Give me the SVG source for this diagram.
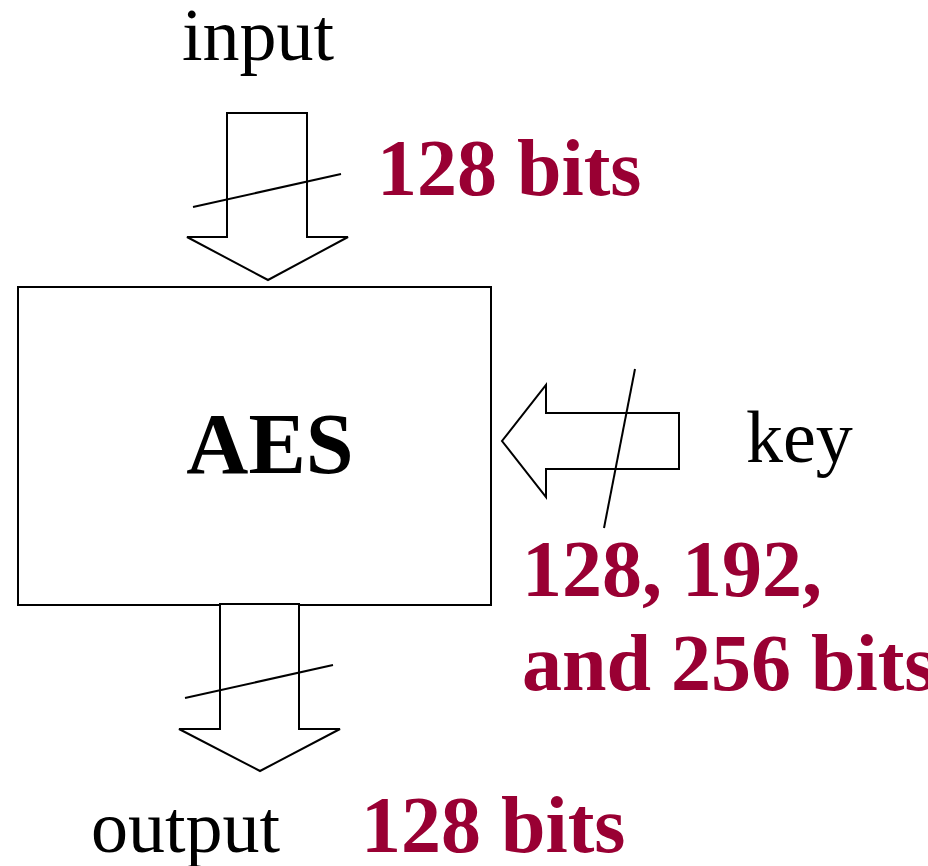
<svg xmlns="http://www.w3.org/2000/svg" width="928" height="866" viewBox="0 0 928 866">
<style>
.s{fill:none;stroke:#000;stroke-width:2}
.a{fill:#fff;stroke:#000;stroke-width:2;stroke-linejoin:miter}
.t{font-family:"Liberation Serif","Times New Roman",serif;fill:#000}
.r{font-family:"Liberation Serif","Times New Roman",serif;font-weight:bold;fill:#990033;font-size:80px}
</style>
<rect width="928" height="866" fill="#fff"/>
<g id="aes">
<rect x="18" y="287" width="473" height="318" class="s"/>
<text x="270" y="473" class="t" font-size="86" font-weight="bold" text-anchor="middle">AES</text>
</g>
<g id="connectors">
<g id="input-arrow">
<polygon class="a" points="227,113 307,113 307,237 348,237 268,280 187,237 227,237"/>
<line class="s" x1="193" y1="207" x2="341" y2="174"/>
</g>
<g id="key-arrow">
<polygon class="a" points="679,413 679,469 546,469 546,497 502,441 546,385 546,413"/>
<line class="s" x1="635" y1="369" x2="604" y2="528"/>
</g>
<g id="output-arrow">
<polygon class="a" points="220,604 299,604 299,729 340,729 260,771 179,729 220,729"/>
<line class="s" x1="185" y1="698" x2="333" y2="665"/>
</g>
</g>
<g id="input">
<text x="182" y="60" class="t" font-size="74">input</text>
<text x="377" y="195" class="r">128 bits</text>
</g>
<g id="key">
<text x="746" y="462" class="t" font-size="74">key</text>
<text x="522" y="596" class="r">128, 192,</text>
<text x="522" y="690" class="r">and 256 bits</text>
</g>
<g id="output">
<text x="91" y="852" class="t" font-size="74">output</text>
<text x="361" y="852" class="r">128 bits</text>
</g>
</svg>
